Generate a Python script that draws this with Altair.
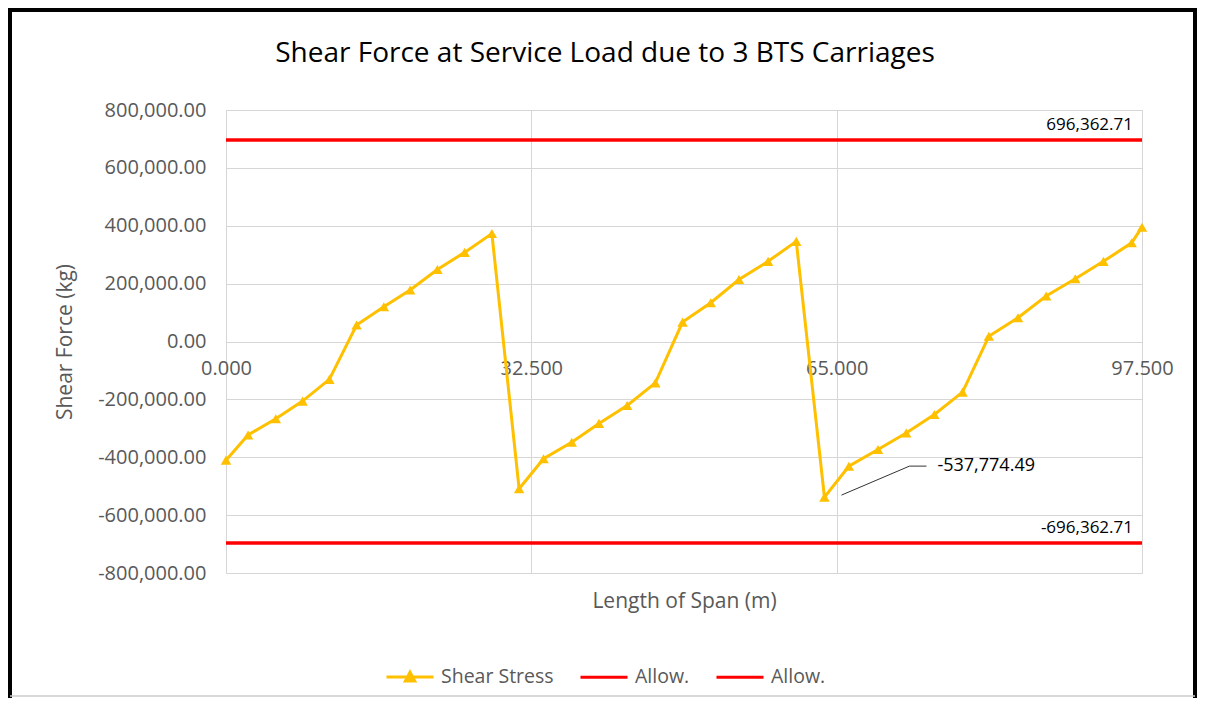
import altair as alt
import pandas as pd

# ---- data ----
span_x = [0.0, 2.35, 5.3, 8.15, 11.0, 13.9, 16.8, 19.6, 22.5, 25.4, 28.3,
          31.2, 33.8, 36.8, 39.7, 42.7, 45.7, 48.6, 51.6, 54.6, 57.7, 60.7,
          63.7, 66.3, 69.4, 72.4, 75.4, 78.4, 81.2, 84.3, 87.3, 90.4, 93.4, 96.4, 97.5]
shear = [-410000, -323000, -267000, -206000, -131000, 57000, 120000, 178000, 249000, 308000, 373000,
         -509000, -405000, -348000, -283000, -221000, -143000, 67000, 134000, 214000, 277000, 346000,
         -537774.49, -431000, -373000, -316000, -252000, -175000, 18000, 82000, 157000, 217000, 277000, 341000, 395000]
allow_values = [696362.71, -696362.71]
allow_labels = ["696,362.71", "-696,362.71"]
annot_index = 22
annot_label = "-537,774.49"
x_ticks = [0.0, 32.5, 65.0, 97.5]
y_ticks = [-800000, -600000, -400000, -200000, 0, 200000, 400000, 600000, 800000]
series_names = ["Shear Stress", "Allow.", "Allow. "]
series_colors = ["#FFC000", "#FF0000", "#FF0000"]
series_shapes = ["M-1,0H1M-0.2,0.18L0,-0.2L0.2,0.18Z", "M-1,0H1", "M-1,0H1"]
chart_title = "Shear Force at Service Load due to 3 BTS Carriages"

FONT = "Open Sans"
GOLD = "#FFC000"
RED = "#FF0000"
GRID = "#d6d6d6"
AXIS_TXT = "#595959"

df = pd.DataFrame({"x": span_x, "y": shear})
allow_df = pd.DataFrame({"y": allow_values, "label": allow_labels,
                         "x0": [x_ticks[0]] * 2, "x1": [x_ticks[-1]] * 2})
annot_df = df.iloc[[annot_index]].assign(label=annot_label)
legend_df = pd.DataFrame({"series": series_names})
title_df = pd.DataFrame({"t": [chart_title]})

xs = alt.Scale(domain=[x_ticks[0], x_ticks[-1]], nice=False, zero=False)
ys = alt.Scale(domain=[y_ticks[0], y_ticks[-1]], nice=False)

x_axis = alt.Axis(values=x_ticks, format=".3f", offset=-231.5, domain=False, ticks=False,
                  grid=True, gridColor=GRID, gridWidth=1, labelFlush=False,
                  labelFont=FONT, labelFontSize=20, labelColor=AXIS_TXT, labelPadding=17,
                  title="Length of Span (m)", titleFont=FONT, titleFontSize=21,
                  titleFontWeight="normal", titleColor=AXIS_TXT, titlePadding=212)
y_axis = alt.Axis(values=y_ticks, format=",.2f", domain=False, ticks=False,
                  grid=True, gridColor=GRID, gridWidth=1,
                  labelExpr="replace(datum.label, '\u2212', '-')",
                  labelFont=FONT, labelFontSize=20, labelColor=AXIS_TXT, labelPadding=20,
                  title="Shear Force (kg)", titleFont=FONT, titleFontSize=21,
                  titleFontWeight="normal", titleColor=AXIS_TXT, titlePadding=22)

line = alt.Chart(df).mark_line(color=GOLD, strokeWidth=3).encode(
    x=alt.X("x:Q", scale=xs, axis=x_axis),
    y=alt.Y("y:Q", scale=ys, axis=y_axis),
)
pts = alt.Chart(df).mark_point(shape="triangle-up", filled=True, opacity=1, size=110, color=GOLD).encode(
    x=alt.X("x:Q", scale=xs), y=alt.Y("y:Q", scale=ys)
)

allow_rule = alt.Chart(allow_df).mark_rule(color=RED, strokeWidth=3.5).encode(
    x=alt.X("x0:Q", scale=xs), x2="x1:Q", y=alt.Y("y:Q", scale=ys)
)
allow_text = alt.Chart(allow_df).mark_text(align="right", baseline="bottom", dx=-9, dy=-6,
                                           font=FONT, fontSize=17, color="black").encode(
    x=alt.X("x1:Q", scale=xs), y=alt.Y("y:Q", scale=ys), text="label:N"
)

annot_text = alt.Chart(annot_df).mark_text(align="left", baseline="middle", dx=113, dy=-31,
                                           font=FONT, fontSize=18, color="black").encode(
    x=alt.X("x:Q", scale=xs), y=alt.Y("y:Q", scale=ys), text="label:N"
)
leader1 = alt.Chart(annot_df).mark_rule(color="#333333", strokeWidth=1,
                                        xOffset=17, yOffset=-2, x2Offset=85, y2Offset=-31).encode(
    x=alt.X("x:Q", scale=xs), x2="x:Q", y=alt.Y("y:Q", scale=ys), y2="y:Q"
)
leader2 = alt.Chart(annot_df).mark_rule(color="#333333", strokeWidth=1,
                                        xOffset=85, yOffset=-31, x2Offset=102, y2Offset=-31).encode(
    x=alt.X("x:Q", scale=xs), x2="x:Q", y=alt.Y("y:Q", scale=ys), y2="y:Q"
)

leg = alt.Legend(orient="none", legendX=159, legendY=541.5, direction="horizontal", title=None,
                 labelFont=FONT, labelFontSize=19.5, labelColor=AXIS_TXT, labelOffset=6,
                 symbolSize=2209, symbolStrokeWidth=3, columnPadding=20, padding=0)
legend_layer = alt.Chart(legend_df).mark_point(filled=True, opacity=1).encode(
    fill=alt.Fill("series:N", scale=alt.Scale(domain=series_names, range=series_colors), legend=leg),
    stroke=alt.Stroke("series:N", scale=alt.Scale(domain=series_names, range=series_colors), legend=leg),
    shape=alt.Shape("series:N", scale=alt.Scale(domain=series_names, range=series_shapes), legend=leg),
).transform_filter("false")

title_text = alt.Chart(title_df).mark_text(align="center", baseline="alphabetic", font=FONT,
                                           fontSize=28, color="black").encode(
    x=alt.value(379), y=alt.value(-48), text="t:N")

one = pd.DataFrame({"k": [0]})
frame_top = alt.Chart(one).mark_rule(color="black", strokeWidth=4).encode(
    x=alt.value(-218), x2=alt.value(971), y=alt.value(-100))
frame_left = alt.Chart(one).mark_rule(color="black", strokeWidth=4).encode(
    x=alt.value(-216), y=alt.value(-102), y2=alt.value(588))
frame_right = alt.Chart(one).mark_rule(color="black", strokeWidth=4).encode(
    x=alt.value(969), y=alt.value(-102), y2=alt.value(588))
frame_bottom = alt.Chart(one).mark_rule(color="#cccccc", strokeWidth=1.5).encode(
    x=alt.value(-216), x2=alt.value(969), y=alt.value(586))

chart = alt.layer(
    line, allow_rule, pts, allow_text, leader1, leader2, annot_text, legend_layer, title_text,
    frame_top, frame_left, frame_right, frame_bottom
).properties(
    width=916, height=463,
    autosize=alt.AutoSizeParams(type="none"),
    padding={"left": 218, "top": 102, "right": 55, "bottom": 125},
).configure_view(stroke=None).configure(background="white")

chart.save("out.html", embed_options={"renderer": "svg", "actions": False})
